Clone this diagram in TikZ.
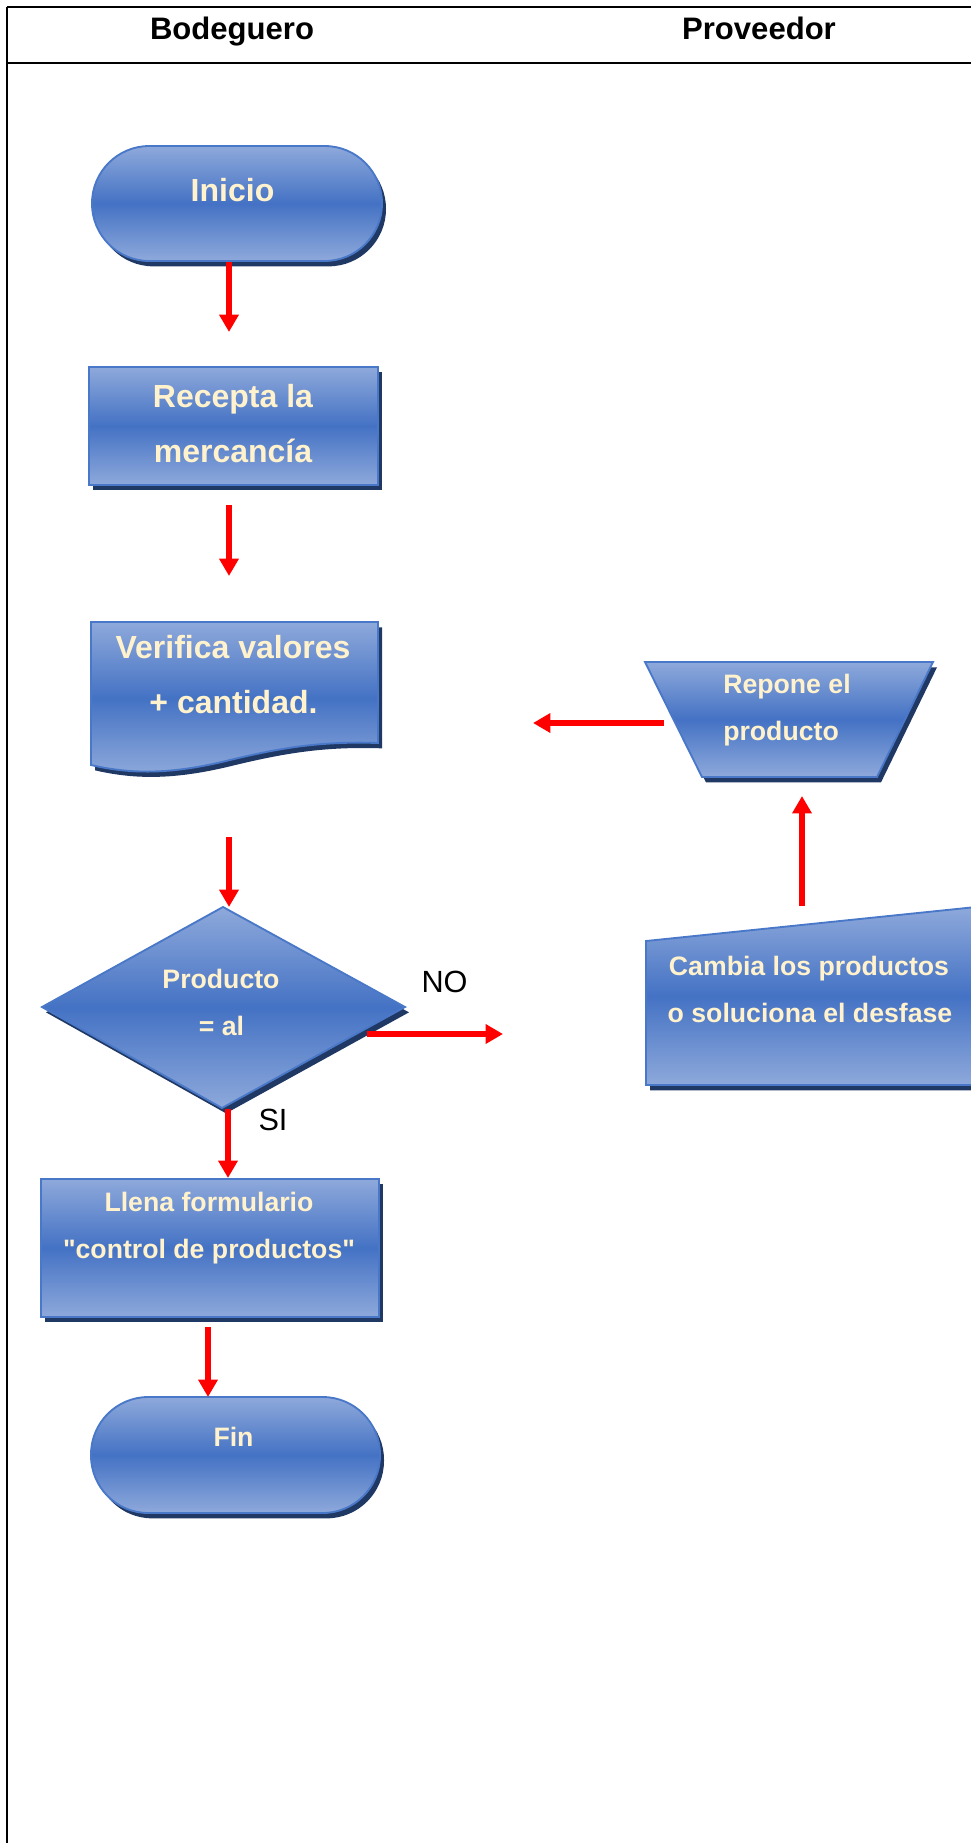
\documentclass[tikz,border=0pt]{standalone}
\usepackage{fontspec}
\setmainfont{Liberation Sans}
\usetikzlibrary{shadows,arrows.meta}
\definecolor{lightb}{HTML}{8EA9DB}
\definecolor{midb}{HTML}{4472C4}
\definecolor{edgeb}{HTML}{4A78C8}
\definecolor{shadowc}{HTML}{203864}
\definecolor{cream}{HTML}{FFF2CC}
\begin{document}
\begin{tikzpicture}[x=0.75pt,y=-0.75pt,
  shapebox/.style={top color=lightb, bottom color=lightb, middle color=midb, draw=edgeb, line width=1.4pt,
    drop shadow={shadow xshift=3pt, shadow yshift=-4pt, fill=shadowc, opacity=1}},
  bigtxt/.style={text=cream, font=\bfseries\fontsize{24}{28}\selectfont, anchor=base, inner sep=0pt},
  smalltxt/.style={text=cream, font=\bfseries\fontsize{20}{24}\selectfont, anchor=base, inner sep=0pt},
  headtxt/.style={font=\bfseries\fontsize{23.3}{28}\selectfont, anchor=base, inner sep=0pt},
  yesno/.style={font=\fontsize{23}{28}\selectfont, anchor=base, inner sep=0pt},
  flow/.style={draw=red, line width=4pt, -{Triangle[width=14pt,length=13pt]}},
  rule/.style={line width=1pt}
]
\useasboundingbox (0,0) rectangle (971,1843);
\clip (0,0) rectangle (971,1843);

% table frame
\draw[rule] (7,7) -- (971,7);
\draw[rule] (7,63) -- (971,63);
\draw[rule] (7,7) -- (7,1843);
\node[headtxt] (hBod) at (232,39) {Bodeguero};
\node[headtxt] (hProv) at (759,39) {Proveedor};

% shapes
\path[shapebox, rounded corners=43pt] (92,146) rectangle (382,261);
\path[shapebox] (89,367) rectangle (378,485);
\path[shapebox] (91,622) -- (378,622) -- (378,743)
   .. controls (320,741) and (280,748) .. (230,760)
   .. controls (170,775) and (130,774) .. (91,765) -- cycle;
\path[shapebox] (223,907) -- (405,1007) -- (222,1108) -- (42,1007) -- cycle;
\path[shapebox] (41,1179) rectangle (379,1317);
\path[shapebox, rounded corners=43pt] (91,1397) rectangle (380,1513);
\path[shapebox] (645,662) -- (933,662) -- (877,777) -- (702,777) -- cycle;
\path[shapebox] (646,941) -- (976,907) -- (976,1085) -- (646,1085) -- cycle;

% texts
\node[bigtxt] (tInicio) at (232.5,201) {Inicio};
\node[bigtxt] (tRec1) at (233,407) {Recepta la};
\node[bigtxt] (tRec2) at (233,462) {mercancía};
\node[bigtxt] (tVer1) at (233,658) {Verifica valores};
\node[bigtxt] (tVer2) at (233.5,713) {+ cantidad.};
\node[smalltxt] (tProd1) at (221,988) {Producto};
\node[smalltxt] (tProd2) at (221.5,1035) {= al};
\node[smalltxt] (tLl1) at (209,1211) {Llena formulario};
\node[smalltxt] (tLl2) at (209,1258) {\textquotedbl control de productos\textquotedbl};
\node[smalltxt] (tFin) at (233.5,1446) {Fin};
\node[smalltxt, anchor=base west] (tRep1) at (723,693) {Repone el};
\node[smalltxt, anchor=base west] (tRep2) at (723,740) {producto};
\node[smalltxt] (tCam1) at (809,975) {Cambia los productos};
\node[smalltxt] (tCam2) at (810,1022) {o soluciona el desfase};
\node[yesno] (lNo) at (444.5,992) {NO};
\node[yesno] (lSi) at (273,1130) {SI};

% connector ends
\coordinate (inicioS) at (229,262);
\coordinate (receptaN) at (229,332);
\coordinate (receptaS) at (229,505);
\coordinate (verificaN) at (229,576);
\coordinate (verificaS) at (229,837);
\coordinate (decN) at (229,907);
\coordinate (decS) at (228,1109);
\coordinate (llenaN) at (228,1178);
\coordinate (llenaS) at (208,1327);
\coordinate (finN) at (208,1397);
\coordinate (decE) at (367,1034);
\coordinate (noEnd) at (503,1034);
\coordinate (cambiaN) at (802,906);
\coordinate (reponeS) at (802,796);
\coordinate (reponeW) at (664,723);
\coordinate (backEnd) at (533,723);

\draw[flow] (inicioS) -- (receptaN);
\draw[flow] (receptaS) -- (verificaN);
\draw[flow] (verificaS) -- (decN);
\draw[flow] (decS) -- (llenaN);
\draw[flow] (llenaS) -- (finN);
\draw[flow] (decE) -- (noEnd);
\draw[flow] (cambiaN) -- (reponeS);
\draw[flow] (reponeW) -- (backEnd);
\end{tikzpicture}
\end{document}
